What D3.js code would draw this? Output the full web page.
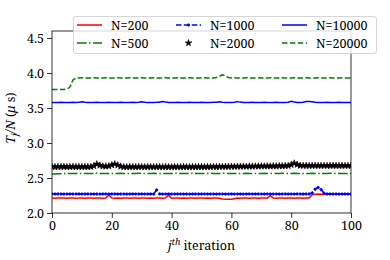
<!DOCTYPE html>
<html><head><meta charset="utf-8">
<script src="https://cdn.jsdelivr.net/npm/d3@7"></script>
<style>body{margin:0;background:#fff}svg{display:block}text{font-family:"Noto Serif","Liberation Serif",serif}</style>
</head><body><svg id="c" width="390" height="260"></svg>
<script>
const iterations = d3.range(0, 101);
const xTicks = [0, 20, 40, 60, 80, 100];
const yTicks = [2.0, 2.5, 3.0, 3.5, 4.0, 4.5];
const seriesNames = ["N=200", "N=500", "N=1000", "N=2000", "N=10000", "N=20000"];

const n200 = [
2.215,2.212,2.214,2.213,2.215,2.212,2.213,2.214,2.212,2.213,
2.215,2.212,2.214,2.213,2.212,2.214,2.213,2.212,2.214,2.258,
2.214,2.211,2.213,2.212,2.214,2.213,2.212,2.214,2.213,2.211,
2.213,2.214,2.212,2.213,2.212,2.214,2.213,2.212,2.214,2.255,
2.212,2.213,2.214,2.212,2.213,2.212,2.214,2.213,2.211,2.213,
2.214,2.212,2.213,2.212,2.214,2.213,2.212,2.200,2.196,2.195,
2.197,2.205,2.213,2.212,2.214,2.213,2.212,2.214,2.213,2.211,
2.213,2.214,2.212,2.250,2.213,2.212,2.214,2.213,2.212,2.214,
2.213,2.211,2.213,2.214,2.212,2.213,2.214,2.262,2.268,2.270,
2.268,2.266,2.268,2.270,2.269,2.268,2.270,2.268,2.269,2.270,
2.268];
const n500 = [
2.556,2.558,2.560,2.562,2.563,2.564,2.565,2.564,2.566,2.565,
2.566,2.565,2.564,2.566,2.565,2.567,2.565,2.564,2.566,2.565,
2.564,2.566,2.565,2.567,2.566,2.565,2.564,2.566,2.565,2.567,
2.566,2.565,2.564,2.566,2.567,2.565,2.564,2.566,2.565,2.566,
2.565,2.567,2.566,2.565,2.564,2.566,2.565,2.567,2.566,2.565,
2.564,2.566,2.565,2.567,2.566,2.565,2.564,2.566,2.567,2.565,
2.566,2.565,2.564,2.566,2.565,2.567,2.566,2.565,2.564,2.566,
2.565,2.567,2.566,2.565,2.564,2.566,2.565,2.567,2.566,2.565,
2.566,2.567,2.565,2.566,2.564,2.566,2.565,2.567,2.566,2.565,
2.564,2.566,2.565,2.567,2.566,2.565,2.564,2.566,2.565,2.566,
2.565];
const n1000 = [
2.272,2.271,2.273,2.272,2.270,2.272,2.273,2.271,2.272,2.273,
2.271,2.272,2.273,2.272,2.271,2.272,2.270,2.272,2.273,2.271,
2.272,2.273,2.271,2.272,2.272,2.270,2.272,2.273,2.271,2.272,
2.273,2.271,2.272,2.272,2.270,2.330,2.273,2.271,2.272,2.273,
2.271,2.272,2.273,2.272,2.271,2.272,2.270,2.272,2.273,2.271,
2.272,2.273,2.271,2.272,2.272,2.270,2.272,2.273,2.271,2.272,
2.273,2.271,2.272,2.272,2.270,2.272,2.273,2.271,2.272,2.273,
2.271,2.272,2.273,2.272,2.271,2.272,2.270,2.272,2.273,2.271,
2.272,2.271,2.273,2.272,2.270,2.272,2.273,2.285,2.340,2.365,
2.335,2.282,2.272,2.271,2.273,2.272,2.270,2.272,2.273,2.271,
2.272];
const n2000 = [
2.660,2.658,2.661,2.659,2.660,2.658,2.660,2.661,2.659,2.660,
2.658,2.660,2.659,2.661,2.672,2.698,2.680,2.668,2.667,2.670,
2.685,2.700,2.682,2.665,2.658,2.657,2.659,2.658,2.657,2.659,
2.658,2.657,2.659,2.658,2.657,2.659,2.658,2.657,2.659,2.658,
2.657,2.659,2.658,2.657,2.659,2.658,2.657,2.659,2.658,2.660,
2.659,2.658,2.660,2.659,2.661,2.660,2.662,2.661,2.663,2.662,
2.664,2.663,2.665,2.664,2.666,2.665,2.667,2.666,2.668,2.667,
2.669,2.668,2.670,2.669,2.671,2.670,2.672,2.671,2.673,2.675,
2.688,2.710,2.692,2.678,2.676,2.677,2.675,2.676,2.677,2.675,
2.676,2.677,2.675,2.676,2.677,2.675,2.676,2.677,2.675,2.676,
2.677];
const n10000 = [
3.580,3.579,3.580,3.581,3.580,3.579,3.580,3.581,3.580,3.582,
3.588,3.583,3.580,3.579,3.580,3.581,3.580,3.579,3.580,3.581,
3.580,3.579,3.580,3.581,3.580,3.579,3.580,3.581,3.580,3.582,
3.590,3.583,3.580,3.579,3.580,3.581,3.583,3.592,3.584,3.580,
3.579,3.580,3.581,3.580,3.579,3.580,3.581,3.580,3.579,3.580,
3.581,3.580,3.579,3.580,3.581,3.582,3.590,3.583,3.580,3.579,
3.580,3.582,3.591,3.584,3.580,3.579,3.580,3.581,3.580,3.579,
3.580,3.581,3.580,3.579,3.580,3.581,3.580,3.579,3.580,3.582,
3.595,3.584,3.580,3.579,3.583,3.592,3.594,3.590,3.581,3.580,
3.579,3.580,3.581,3.580,3.579,3.580,3.581,3.580,3.579,3.580,
3.580];
const n20000 = [
3.765,3.765,3.764,3.765,3.766,3.768,3.800,3.900,3.928,3.930,
3.931,3.930,3.929,3.930,3.931,3.930,3.929,3.930,3.931,3.930,
3.929,3.930,3.931,3.930,3.929,3.930,3.931,3.930,3.929,3.930,
3.931,3.930,3.929,3.930,3.931,3.930,3.929,3.930,3.931,3.930,
3.929,3.930,3.931,3.930,3.929,3.930,3.931,3.930,3.929,3.930,
3.930,3.931,3.930,3.929,3.930,3.935,3.952,3.975,3.955,3.935,
3.930,3.931,3.930,3.929,3.930,3.931,3.930,3.929,3.930,3.931,
3.930,3.929,3.930,3.931,3.930,3.929,3.930,3.931,3.930,3.929,
3.930,3.931,3.930,3.929,3.930,3.931,3.930,3.929,3.930,3.931,
3.930,3.929,3.930,3.931,3.930,3.929,3.930,3.931,3.930,3.929,
3.930];

const seriesValues = [n200, n500, n1000, n2000, n10000, n20000];
const seriesStyle = [
  {color:"#ff0000", dash:null, marker:null, line:true},
  {color:"#008000", dash:"9.6,2.4,1.5,2.4", marker:null, line:true},
  {color:"#0000ff", dash:"5.5,2.4", marker:"dot", line:true},
  {color:"#000000", dash:null, marker:"star", line:false},
  {color:"#0000ff", dash:null, marker:null, line:true},
  {color:"#008000", dash:"5.5,2.4", marker:null, line:true}
];

const FS = 12.5;
const L = 52, R = 351, T = 31, B = 213;
const svg = d3.select("#c");
svg.append("rect").attr("width",390).attr("height",260).attr("fill","#fff");

const x = d3.scaleLinear().domain([0,100]).range([L,R]);
const y = d3.scaleLinear().domain([2.0,4.6]).range([B,T]);

svg.append("clipPath").attr("id","clip").append("rect")
  .attr("x",L).attr("y",T).attr("width",R-L).attr("height",B-T);

const plot = svg.append("g").attr("clip-path","url(#clip)");
const line = d3.line().x((d,i)=>x(iterations[i])).y(d=>y(d));
const star = d3.symbol().type(d3.symbolStar).size(14);
const dot = d3.symbol().type(d3.symbolCircle).size(5);

seriesValues.forEach((vals,k)=>{
  const s = seriesStyle[k];
  if (s.line) {
    plot.append("path").datum(vals).attr("d",line)
      .attr("fill","none").attr("stroke",s.color).attr("stroke-width",1.5)
      .attr("stroke-dasharray",s.dash).attr("stroke-linejoin","round");
  }
  if (s.marker) {
    plot.append("g").selectAll("path").data(vals).join("path")
      .attr("transform",(d,i)=>`translate(${x(iterations[i])},${y(d)})`)
      .attr("d", s.marker==="star" ? star : dot)
      .attr("fill",s.color).attr("stroke",s.color).attr("stroke-width",0.6);
  }
});

// axes
const ax = svg.append("g").attr("transform",`translate(0,${B})`)
  .call(d3.axisBottom(x).tickValues(xTicks).tickFormat(d3.format("d")).tickSize(5).tickPadding(3));
const ay = svg.append("g").attr("transform",`translate(${L},0)`)
  .call(d3.axisLeft(y).tickValues(yTicks).tickFormat(d3.format(".1f")).tickSize(5).tickPadding(3));
[ax,ay].forEach(a=>{
  a.select(".domain").remove();
  a.selectAll(".tick line").attr("stroke","#000").attr("stroke-width",0.8);
  a.selectAll(".tick text").attr("font-family",null).attr("font-size",FS).attr("fill","#000");
});
ax.attr("font-family",null); ay.attr("font-family",null);

svg.append("rect").attr("x",L).attr("y",T).attr("width",R-L).attr("height",B-T)
  .attr("fill","none").attr("stroke","#000").attr("stroke-width",0.8);

// axis labels
const xl = svg.append("text").attr("x",(L+R)/2).attr("y",250).attr("text-anchor","middle")
  .attr("font-size",FS).attr("fill","#000");
xl.append("tspan").attr("font-style","italic").text("j");
xl.append("tspan").attr("font-style","italic").attr("font-size",9).attr("dy",-5).text("th");
xl.append("tspan").attr("dy",5).text(" iteration");

const yl = svg.append("text").attr("transform",`translate(15,${(T+B)/2 - 4}) rotate(-90)`)
  .attr("text-anchor","middle").attr("font-size",FS).attr("fill","#000");
yl.append("tspan").attr("font-style","italic").text("T");
yl.append("tspan").attr("font-style","italic").attr("font-size",9).attr("dy",3).text("j");
yl.append("tspan").attr("font-style","italic").attr("dy",-3).text("/N");
yl.append("tspan").text(" (");
yl.append("tspan").attr("font-style","italic").text("μ");
yl.append("tspan").text(" s)");

// legend
const lg = svg.append("g");
lg.append("rect").attr("x",73.5).attr("y",16.5).attr("width",303).attr("height",37).attr("rx",2.5)
  .attr("fill","#fff").attr("fill-opacity",0.8).attr("stroke","#cccccc").attr("stroke-width",0.8);
const colX = [77, 176, 282];
const rowY = [25, 43];
seriesNames.forEach((name,k)=>{
  const col = Math.floor(k/2), row = k%2;
  const s = seriesStyle[k];
  const x0 = colX[col], yy = rowY[row];
  if (s.line) {
    lg.append("line").attr("x1",x0).attr("x2",x0+25).attr("y1",yy).attr("y2",yy)
      .attr("stroke",s.color).attr("stroke-width",1.5).attr("stroke-dasharray",s.dash);
  }
  if (s.marker) {
    lg.append("path").attr("transform",`translate(${x0+12.5},${yy})`)
      .attr("d", s.marker==="star" ? star : dot)
      .attr("fill",s.color).attr("stroke",s.color).attr("stroke-width",0.6);
  }
  lg.append("text").attr("x",x0+34).attr("y",yy+4.5).attr("font-size",FS).attr("fill","#000").text(name);
});
</script></body></html>
